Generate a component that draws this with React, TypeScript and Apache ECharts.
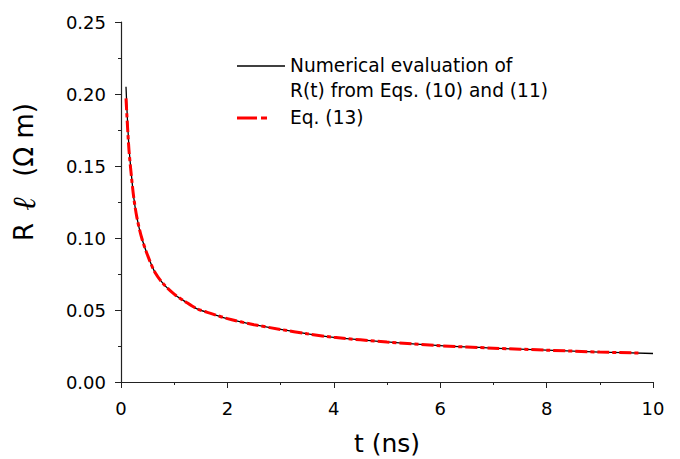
import React, { useEffect, useRef } from "react";
import * as echarts from "echarts";

const tNumerical = [0.094, 0.12, 0.15, 0.19, 0.24, 0.3, 0.39, 0.5, 0.64, 0.8, 1.0, 1.2, 1.42, 1.7, 2.0, 2.5, 3.0, 3.5, 4.0, 5.0, 6.0, 7.0, 8.0, 9.0, 10.0];
const rNumerical = [0.205, 0.183, 0.163, 0.146, 0.128, 0.114, 0.1, 0.088, 0.076, 0.068, 0.061, 0.056, 0.051, 0.0475, 0.044, 0.0398, 0.0365, 0.0335, 0.031, 0.0278, 0.0252, 0.0235, 0.0221, 0.0208, 0.0198];
const tEq13 = [0.094, 0.12, 0.15, 0.19, 0.24, 0.3, 0.39, 0.5, 0.64, 0.8, 1.0, 1.2, 1.42, 1.7, 2.0, 2.5, 3.0, 3.5, 4.0, 5.0, 6.0, 7.0, 8.0, 9.0, 9.76];
const rEq13 = [0.197, 0.179, 0.161, 0.145, 0.128, 0.114, 0.1, 0.088, 0.076, 0.068, 0.061, 0.056, 0.051, 0.0475, 0.044, 0.0398, 0.0365, 0.0335, 0.031, 0.0278, 0.0252, 0.0235, 0.0221, 0.0208, 0.0201];
const xTicks = [0, 2, 4, 6, 8, 10];
const yTicks = [0, 0.05, 0.1, 0.15, 0.2, 0.25];
const legendNames = ["Numerical evaluation of", "R(t) from Eqs. (10) and (11)", "Eq. (13)"];

const FONT = "'DejaVu Sans', sans-serif";

export default function App() {
  const ref = useRef<HTMLDivElement>(null);
  useEffect(() => {
    if (!ref.current) return;
    const chart = echarts.init(ref.current, null, { renderer: "svg" });
    const axisColor = "#222";
    chart.setOption({
      animation: false,
      backgroundColor: "#fff",
      grid: { left: 121, right: 27, top: 22, bottom: 77, containLabel: false, outerBoundsMode: "none" },
      xAxis: {
        type: "value",
        min: xTicks[0],
        max: xTicks[xTicks.length - 1],
        interval: 2,
        name: "t (ns)",
        nameLocation: "middle",
        nameGap: 49,
        nameTextStyle: { fontFamily: FONT, fontSize: 25, color: "#000" },
        axisLine: { show: true, lineStyle: { color: axisColor, width: 1.2 } },
        axisTick: { show: true, inside: false, length: 6, lineStyle: { color: axisColor } },
        minorTick: { show: true, splitNumber: 2, length: 3, lineStyle: { color: axisColor } },
        splitLine: { show: false },
        axisLabel: { fontFamily: FONT, fontSize: 18, color: "#000", margin: 17 },
      },
      yAxis: {
        type: "value",
        min: yTicks[0],
        max: yTicks[yTicks.length - 1],
        interval: 0.05,
        name: "R {l|\u2113}  (\u03A9 m)",
        nameLocation: "middle",
        nameGap: 81,
        nameRotate: 90,
        nameTextStyle: {
          fontFamily: FONT,
          fontSize: 26,
          color: "#000",
          padding: [0, 0, 0, 60],
          rich: {
            l: { fontFamily: "'DejaVu Serif', serif", fontStyle: "italic", fontSize: 32, color: "#000", padding: [0, 4, 0, 4] },
          },
        },
        axisLine: { show: true, lineStyle: { color: axisColor, width: 1.2 } },
        axisTick: { show: true, inside: false, length: 6, lineStyle: { color: axisColor } },
        minorTick: { show: true, splitNumber: 2, length: 3, lineStyle: { color: axisColor } },
        splitLine: { show: false },
        axisLabel: {
          fontFamily: FONT,
          fontSize: 18,
          color: "#000",
          margin: 15,
          formatter: (v: number) => v.toFixed(2),
        },
      },
      series: [
        {
          name: legendNames[0] + " " + legendNames[1],
          type: "line",
          data: tNumerical.map((t, i) => [t, rNumerical[i]]),
          showSymbol: false,
          smooth: 0.3,
          lineStyle: { color: "#000", width: 1.3 },
          z: 2,
        },
        {
          name: legendNames[2],
          type: "line",
          data: tEq13.map((t, i) => [t, rEq13[i]]),
          showSymbol: false,
          smooth: 0.3,
          lineStyle: { color: "#ff0000", width: 3, type: [12, 3, 4, 3] },
          z: 3,
        },
      ],
      graphic: [
        { type: "line", shape: { x1: 237, y1: 66, x2: 285, y2: 66 }, style: { stroke: "#000", lineWidth: 1.3 } },
        { type: "text", x: 290, y: 65, style: { text: legendNames[0], font: `18.6px ${FONT}`, fill: "#000", textVerticalAlign: "middle" } },
        { type: "text", x: 290, y: 90, style: { text: legendNames[1], font: `18.6px ${FONT}`, fill: "#000", textVerticalAlign: "middle" } },
        { type: "line", shape: { x1: 237, y1: 118, x2: 267, y2: 118 }, style: { stroke: "#ff0000", lineWidth: 3, lineDash: [20, 4, 6, 3] } },
        { type: "text", x: 290, y: 117, style: { text: legendNames[2], font: `18.6px ${FONT}`, fill: "#000", textVerticalAlign: "middle" } },
      ],
    });
    return () => chart.dispose();
  }, []);
  return <div ref={ref} style={{ position: "fixed", left: 0, top: 0, width: 680, height: 459 }} />;
}
